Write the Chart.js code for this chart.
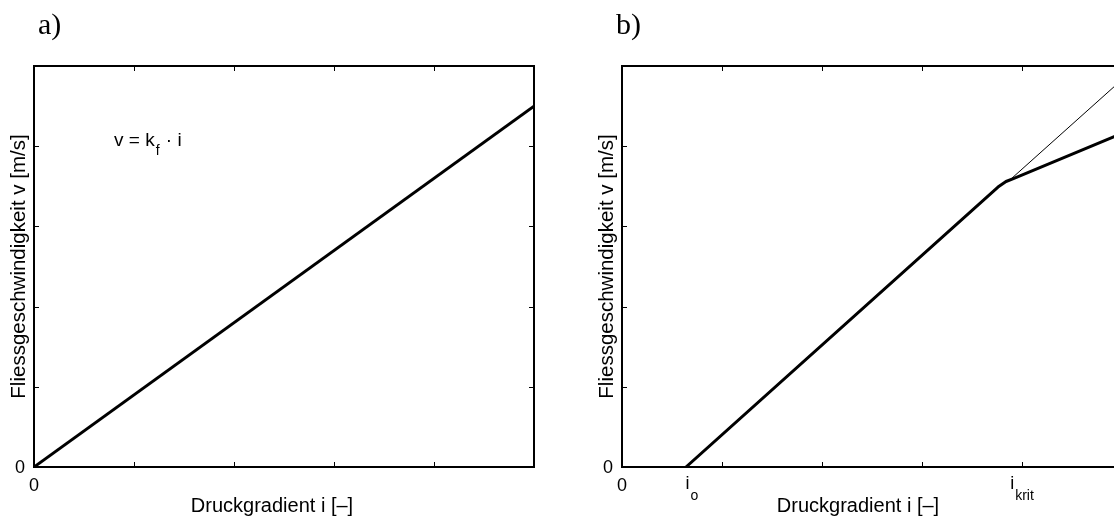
<!DOCTYPE html>
<html>
<head>
<meta charset="utf-8">
<script src="https://cdn.jsdelivr.net/npm/chart.js@4.4.1/dist/chart.umd.min.js"></script>
<style>
  html, body { margin: 0; padding: 0; overflow: hidden; background: #fff; width: 1114px; height: 516px; }
  canvas { position: absolute; top: 0; }
</style>
</head>
<body>
<canvas id="chartA" width="557" height="516" style="left:0px"></canvas>
<canvas id="chartB" width="560" height="516" style="left:588px"></canvas>
<script>
// axis ticks (both panels, unlabeled apart from the custom ones)
const tickValues = [0, 1, 2, 3, 4, 5];

// a) linear Darcy law
const lawI = [0, 5];
const lawV = [0, 4.5];

// b) with threshold gradient i_o and critical gradient i_krit
const flowI = [0.64, 3.76, 3.84, 3.92, 5.0];
const flowV = [0, 3.49, 3.56, 3.6, 4.16];
const extI = [3.88, 5.0];
const extV = [3.58, 4.83];

// x tick labels of panel b) : [main, subscript]
const bLabelValues = [0, 0.7, 4.0];
const bLabelTexts = [['0', ''], ['i', 'o'], ['i', 'krit']];

const xTitle = 'Druckgradient i [\u2013]';
const yTitle = 'Fliessgeschwindigkeit v [m/s]';
const sans = '"Liberation Sans", Arial, Helvetica, sans-serif';

function pts(xs, ys) {
  return xs.map((x, k) => ({x: x, y: ys[k]}));
}

function drawLabel(ctx, x, y, main, sub) {
  ctx.font = '18px ' + sans;
  const w1 = ctx.measureText(main).width;
  ctx.font = '14px ' + sans;
  const w2 = sub ? ctx.measureText(sub).width + 1 : 0;
  const left = x - (w1 + w2) / 2;
  ctx.textAlign = 'left';
  ctx.textBaseline = 'alphabetic';
  ctx.font = '18px ' + sans;
  ctx.fillText(main, left, sub ? y - 2 : y);
  if (sub) {
    ctx.font = '14px ' + sans;
    ctx.fillText(sub, left + w1 + 1, y + 9);
  }
}

const framePlugin = {
  id: 'frame',
  afterDatasetsDraw(chart, args, opts) {
    const ctx = chart.ctx;
    const a = chart.chartArea;
    const xs = chart.scales.x, ys = chart.scales.y;
    ctx.save();
    ctx.strokeStyle = '#000';
    ctx.fillStyle = '#000';
    // box
    ctx.lineWidth = 2;
    ctx.strokeRect(a.left, a.top, a.right - a.left, a.bottom - a.top);
    // inward ticks on all four sides
    ctx.lineWidth = 1;
    ctx.beginPath();
    tickValues.forEach(v => {
      const px = Math.round(xs.getPixelForValue(v)) + 0.5;
      ctx.moveTo(px, a.bottom); ctx.lineTo(px, a.bottom - 5);
      ctx.moveTo(px, a.top); ctx.lineTo(px, a.top + 5);
      const py = Math.round(ys.getPixelForValue(v)) + 0.5;
      ctx.moveTo(a.left, py); ctx.lineTo(a.left + 5, py);
      ctx.moveTo(a.right, py); ctx.lineTo(a.right - 5, py);
    });
    ctx.stroke();

    // y tick label "0"
    ctx.font = '18px ' + sans;
    ctx.textAlign = 'right';
    ctx.textBaseline = 'middle';
    ctx.fillText('0', a.left - 9, ys.getPixelForValue(0) + 1);

    // x tick labels
    opts.labels.forEach((v, k) => {
      drawLabel(ctx, xs.getPixelForValue(v), 491, opts.texts[k][0], opts.texts[k][1]);
    });

    // axis titles
    ctx.font = '20px ' + sans;
    ctx.textAlign = 'center';
    ctx.textBaseline = 'alphabetic';
    ctx.fillText(xTitle, opts.titleX, 512);
    ctx.save();
    ctx.translate(a.left - 15, (a.top + a.bottom) / 2);
    ctx.rotate(-Math.PI / 2);
    ctx.textBaseline = 'middle';
    ctx.font = '20.5px ' + sans;
    ctx.fillText(yTitle, 0, 0);
    ctx.restore();

    // panel letter
    ctx.font = '30px "Liberation Serif", "DejaVu Serif", serif';
    ctx.textAlign = 'left';
    ctx.fillText(opts.letter, a.left + opts.letterDx, 34);

    // formula in panel a)
    if (opts.formula) {
      const fx = xs.getPixelForValue(0.8), fy = ys.getPixelForValue(4.0);
      ctx.font = '19px ' + sans;
      const t1 = 'v = k';
      ctx.fillText(t1, fx, fy);
      let x = fx + ctx.measureText(t1).width + 1;
      ctx.font = '14px ' + sans;
      ctx.fillText('f', x, fy + 9);
      x += ctx.measureText('f').width + 1;
      ctx.font = '19px ' + sans;
      ctx.fillText(' \u00b7 i', x, fy);
    }
    ctx.restore();
  }
};

function scales() {
  return {
    x: {type: 'linear', min: 0, max: 5, display: false},
    y: {type: 'linear', min: 0, max: 5, display: false}
  };
}

new Chart(document.getElementById('chartA'), {
  type: 'line',
  data: {
    datasets: [{
      data: pts(lawI, lawV),
      borderColor: '#000', borderWidth: 3, pointRadius: 0, tension: 0
    }]
  },
  options: {
    responsive: false, animation: false, devicePixelRatio: 1,
    layout: {padding: {left: 34, right: 23, top: 66, bottom: 49}},
    scales: scales(),
    plugins: {
      legend: {display: false}, tooltip: {enabled: false},
      frame: {letter: 'a)', letterDx: 4, labels: [0], texts: [['0', '']], formula: true, titleX: 272}
    }
  },
  plugins: [framePlugin]
});

new Chart(document.getElementById('chartB'), {
  type: 'line',
  data: {
    datasets: [{
      data: pts(extI, extV),
      borderColor: '#000', borderWidth: 1, pointRadius: 0, tension: 0
    }, {
      data: pts(flowI, flowV),
      borderColor: '#000', borderWidth: 3, pointRadius: 0, tension: 0, borderJoinStyle: 'round'
    }]
  },
  options: {
    responsive: false, animation: false, devicePixelRatio: 1,
    layout: {padding: {left: 34, right: 26, top: 66, bottom: 49}},
    scales: scales(),
    plugins: {
      legend: {display: false}, tooltip: {enabled: false},
      frame: {letter: 'b)', letterDx: -6, labels: bLabelValues, texts: bLabelTexts, formula: false, titleX: 858 - 588}
    }
  },
  plugins: [framePlugin]
});
</script>
</body>
</html>
